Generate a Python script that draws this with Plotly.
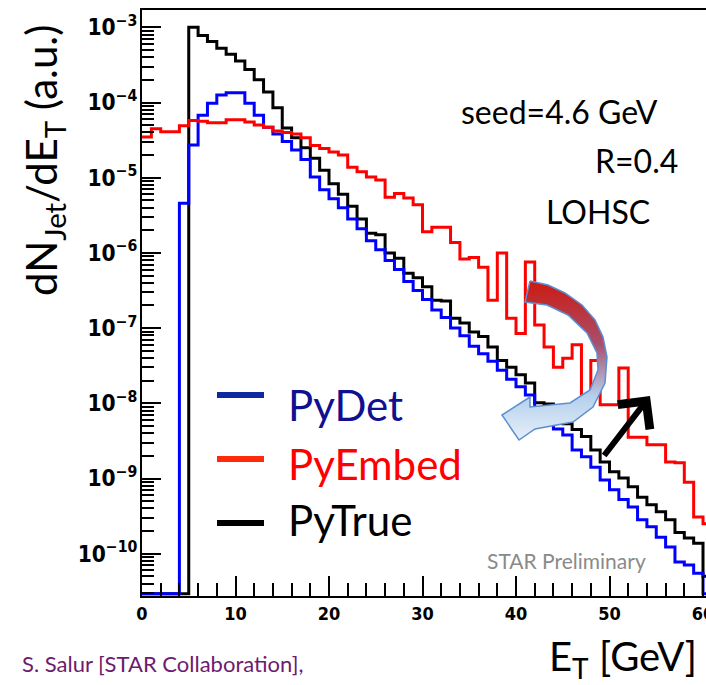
import plotly.graph_objects as go

# ---------------- data (1 GeV bins, left edges 0..60) ----------------
bin_left_edges = list(range(0, 61))
bin_width = 1

py_true = [0, 0, 0, 0, 0,
           1.0e-3, 7.76e-4, 6.46e-4, 5.25e-4, 4.37e-4,
           3.55e-4, 2.75e-4, 2.00e-4, 1.38e-4, 8.51e-5,
           4.57e-5, 3.39e-5, 2.51e-5, 1.82e-5, 1.26e-5,
           8.32e-6, 6.03e-6, 4.17e-6, 2.82e-6, 1.82e-6,
           1.74e-6, 1.0e-6, 8.51e-7, 5.37e-7, 4.68e-7,
           3.55e-7, 2.34e-7, 2.29e-7, 1.35e-7, 1.17e-7,
           8.91e-8, 7.76e-8, 5.62e-8, 3.72e-8, 3.02e-8,
           2.40e-8, 1.86e-8, 1.02e-8, 9.77e-9, 5.75e-9,
           5.37e-9, 4.47e-9, 3.63e-9, 2.40e-9, 1.66e-9,
           1.23e-9, 1.02e-9, 7.76e-10, 5.62e-10, 4.47e-10,
           3.63e-10, 2.82e-10, 1.91e-10, 1.62e-10, 1.38e-10,
           5.0e-11]

py_det = [0, 0, 0, 0, 4.57e-6,
          2.72e-5, 6.76e-5, 9.77e-5, 1.26e-4, 1.35e-4,
          1.35e-4, 9.77e-5, 6.76e-5, 4.68e-5, 3.80e-5,
          3.02e-5, 2.34e-5, 1.74e-5, 1.02e-5, 6.92e-6,
          5.25e-6, 3.98e-6, 2.82e-6, 2.09e-6, 1.45e-6,
          1.10e-6, 7.94e-7, 6.03e-7, 4.17e-7, 3.16e-7,
          2.40e-7, 1.74e-7, 1.38e-7, 1.0e-7, 7.94e-8,
          5.75e-8, 4.57e-8, 3.63e-8, 2.75e-8, 2.09e-8,
          1.66e-8, 1.29e-8, 8.71e-9, 6.31e-9, 4.57e-9,
          3.80e-9, 2.40e-9, 1.95e-9, 1.41e-9, 9.55e-10,
          7.08e-10, 5.25e-10, 4.17e-10, 2.82e-10, 2.29e-10,
          1.66e-10, 1.23e-10, 7.76e-11, 7.08e-11, 5.50e-11,
          0]

py_embed = [3.47e-5, 4.47e-5, 4.07e-5, 4.07e-5, 4.90e-5,
            5.75e-5, 5.62e-5, 5.37e-5, 5.37e-5, 5.89e-5,
            5.89e-5, 5.50e-5, 5.01e-5, 4.68e-5, 4.17e-5,
            3.98e-5, 3.80e-5, 3.39e-5, 2.69e-5, 2.45e-5,
            2.19e-5, 2.00e-5, 1.38e-5, 1.20e-5, 1.02e-5,
            9.33e-6, 5.50e-6, 6.17e-6, 5.37e-6, 4.37e-6,
            1.91e-6, 2.19e-6, 2.19e-6, 1.38e-6, 8.32e-7,
            8.71e-7, 6.46e-7, 2.34e-7, 1.0e-6, 1.35e-7,
            8.51e-8, 7.59e-7, 1.10e-7, 5.62e-8, 3.02e-8,
            3.98e-8, 6.03e-8, 9.55e-9, 3.72e-8, 9.55e-9,
            9.55e-9, 2.95e-8, 3.55e-9, 3.55e-9, 2.82e-9,
            2.82e-9, 1.66e-9, 1.62e-9, 8.91e-10, 3.09e-10,
            2.51e-10]

series_names = ["PyDet", "PyEmbed", "PyTrue"]
x_tick_values = [0, 10, 20, 30, 40, 50, 60]

# ---------------- geometry helpers (layout only) ----------------
W, H = 706, 685
L_PX, R_PX, T_PX, B_PX = 142, 706, 10, 596
Y_LOG_RANGE = [-10.562, -2.77]
X_RANGE = [0, 60.32]
EMPTY_BIN_LEVEL = 10 ** (Y_LOG_RANGE[0] + 0.03)   # ROOT draws empty bins on the frame


def pxx(x):
    return (x - L_PX) / (R_PX - L_PX)


def pxy(y):
    return (B_PX - y) / (B_PX - T_PX)


def step_xy(values):
    xs = bin_left_edges + [bin_left_edges[-1] + bin_width]
    ys = [v if v > 0 else EMPTY_BIN_LEVEL for v in values]
    ys = ys + [ys[-1]]
    return xs, ys


fig = go.Figure()

for vals, color in [(py_true, "#000000"), (py_det, "#0000ff"), (py_embed, "#ff0000")]:
    xs, ys = step_xy(vals)
    fig.add_trace(go.Scatter(x=xs, y=ys, mode="lines", line=dict(color=color, width=3, shape="hv"),
                             showlegend=False, hoverinfo="skip"))

# curved arrow decoration (pixel coordinates on an overlay axis)
arrow_x = [530, 548, 565, 582, 595, 603, 607, 605, 593, 573, 535, 519, 502, 530, 530, 570, 590, 598,
           597, 587, 568, 547, 525, 530]
arrow_y = [281, 285, 293, 305, 320, 337, 357, 383, 407, 422, 429, 440, 415, 397, 407, 403, 390, 370,
           353, 333, 315, 305, 302, 281]
fig.add_trace(go.Scatter(x=arrow_x, y=arrow_y, xaxis="x2", yaxis="y2", mode="lines", fill="toself",
                         fillgradient=dict(type="vertical",
                                           colorscale=[[0, "#cc1a10"], [0.4, "#a8506e"], [0.72, "#b4cfec"],
                                                       [1, "#e6f0fa"]],
                                           start=281, stop=440),
                         line=dict(color="#5b8fcf", width=1.5), showlegend=False, hoverinfo="skip"))

tick_font = dict(family="Liberation Sans Narrow, Arial Narrow, DejaVu Sans Condensed, Liberation Sans",
                 size=18, color="black", weight="bold")

fig.update_layout(
    width=W, height=H,
    margin=dict(l=L_PX, r=W - R_PX, t=T_PX, b=H - B_PX, autoexpand=False),
    paper_bgcolor="white", plot_bgcolor="white",
    showlegend=False,
    xaxis=dict(range=X_RANGE, tickvals=x_tick_values, ticks="inside", ticklen=20, tickwidth=2,
               tickcolor="black", showline=True, linecolor="black", linewidth=2, mirror=True,
               showgrid=False, zeroline=False, tickfont=tick_font, ticklabeloverflow="allow",
               automargin=False,
               minor=dict(ticks="inside", ticklen=13, tickwidth=2, tickcolor="black", dtick=2, showgrid=False)),
    yaxis=dict(type="log", range=Y_LOG_RANGE, dtick=1, tick0=0, exponentformat="power", showexponent="all",
               ticks="inside", ticklen=19, tickwidth=2, tickcolor="black", showline=True, linecolor="black",
               linewidth=2, showgrid=False, zeroline=False, tickfont=tick_font, ticklabelstandoff=-1,
               automargin=False,
               minor=dict(ticks="inside", ticklen=12, tickwidth=2, tickcolor="black", dtick="D1", showgrid=False)),
    xaxis2=dict(overlaying="x", range=[L_PX, R_PX], visible=False, fixedrange=True, automargin=False),
    yaxis2=dict(overlaying="y", range=[B_PX, T_PX], visible=False, fixedrange=True, automargin=False),
)

txt_font = "Lato, Open Sans, sans-serif"
ann = []


def label(text, x, y, size, color="black", xanchor="center", **kw):
    ann.append(dict(text=text, x=pxx(x), y=pxy(y), xref="paper", yref="paper", xanchor=xanchor,
                    yanchor="middle", showarrow=False, font=dict(family=txt_font, size=size, color=color), **kw))


# axis titles
label("dN<sub>Jet</sub>/dE<sub>T</sub> (a.u.)", 44, 160, 42, textangle=-90)
label("E<sub>T</sub> [GeV]", 623, 658, 40)
# text labels
label("seed=4.6 GeV", 660, 111, 32, xanchor="right")
label("R=0.4", 680, 161, 32, xanchor="right")
label("LOHSC", 652, 211, 32, xanchor="right")
label("STAR Preliminary", 485, 560, 21, color="#8a8a8a", xanchor="left")
label("S. Salur [STAR Collaboration],", 20, 663, 22, color="#6e1a6e", xanchor="left")

# legend (manual)
legend_colors_line = ["#0f2a9e", "#ff2a0a", "#000000"]
legend_colors_text = ["#101090", "#ff0000", "#000000"]
legend_text_y = [405, 464, 520]
legend_line_y = [395, 459, 523]
shapes = []
for name, lc, tc, ty, ly in zip(series_names, legend_colors_line, legend_colors_text, legend_text_y, legend_line_y):
    shapes.append(dict(type="line", xref="paper", yref="paper", x0=pxx(217), x1=pxx(264),
                       y0=pxy(ly), y1=pxy(ly), line=dict(color=lc, width=6)))
    label(name, 286, ty, 42, color=tc, xanchor="left")

# black arrow
ann.append(dict(x=650, y=396, ax=603, ay=457, xref="x2", yref="y2", axref="x2", ayref="y2", text="",
                showarrow=True, arrowhead=4, arrowsize=1.3, arrowwidth=6, arrowcolor="black"))

fig.update_layout(annotations=ann, shapes=shapes)
fig.write_html("out.html")
